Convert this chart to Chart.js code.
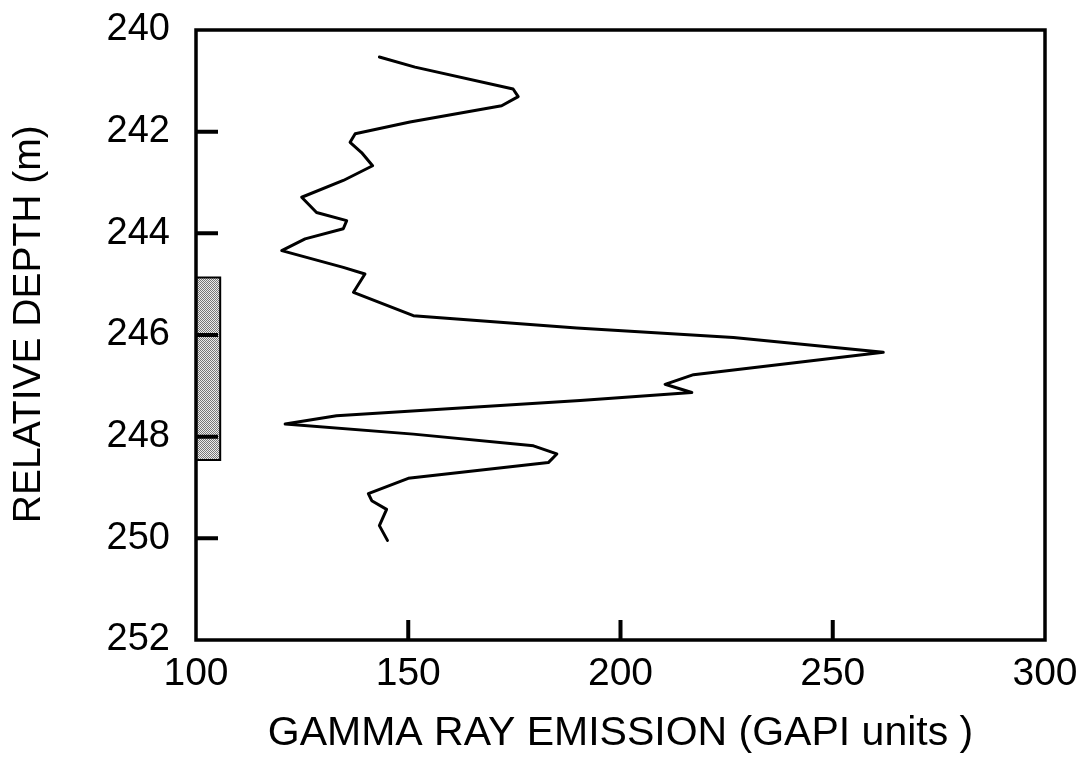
<!DOCTYPE html>
<html>
<head>
<meta charset="utf-8">
<title>Gamma ray log</title>
<script src="https://cdn.jsdelivr.net/npm/chart.js@4/dist/chart.umd.min.js"></script>
<style>
  html, body { margin: 0; padding: 0; background: #fff; }
  #wrap { width: 1091px; height: 763px; }
</style>
</head>
<body>
<div id="wrap"><canvas id="log-chart" width="1091" height="763"></canvas></div>
<script>
// gamma ray log, read downhole
const depth = [240.53, 240.73, 241.16, 241.31, 241.49, 241.81, 242.04, 242.21, 242.41, 242.67,
               242.96, 243.29, 243.59, 243.75, 243.91, 244.11, 244.34, 244.67, 244.80, 245.16,
               245.62, 245.86, 246.05, 246.34, 246.78, 246.97, 247.13, 247.29, 247.59, 247.75,
               247.95, 248.18, 248.34, 248.51, 248.82, 249.12, 249.26, 249.43, 249.75, 250.04];
const gamma = [143.2, 151.6, 174.7, 175.9, 172.0, 150.4, 137.5, 136.3, 139.0, 141.6,
               134.7, 124.9, 128.4, 135.5, 134.7, 125.7, 120.2, 134.7, 139.8, 137.1,
               151.2, 189.7, 226.6, 261.9, 217.2, 210.5, 216.8, 190.5, 133.1, 121.0,
               151.2, 179.5, 185.0, 183.0, 150.0, 140.6, 141.4, 144.9, 143.2, 145.1];

// cored interval marked against the depth axis
const coreGamma = [100, 105.7, 105.7, 100, 100];
const coreDepth = [244.87, 244.87, 248.46, 248.46, 244.87];

const depthTicks = [242, 244, 246, 248, 250];
const gammaTicks = [150, 200, 250];

const toPoints = (xs, ys) => xs.map((v, i) => ({ x: v, y: ys[i] }));

// stippled fill for the core bar
const stipple = (() => {
    const c = document.createElement('canvas');
    c.width = 2; c.height = 2;
    const g = c.getContext('2d');
    g.fillStyle = '#ececec'; g.fillRect(0, 0, 2, 2);
    g.fillStyle = '#777777'; g.fillRect(0, 0, 1, 1); g.fillRect(1, 1, 1, 1);
    return g.createPattern(c, 'repeat');
})();

// box around the plot and ticks pointing inwards
const frame = {
    id: 'frame',
    afterDatasetsDraw(chart) {
        const { ctx, chartArea: a, scales: { x, y } } = chart;
        ctx.save();
        ctx.strokeStyle = '#000';
        ctx.lineWidth = 3.5;
        ctx.strokeRect(a.left, a.top, a.right - a.left, a.bottom - a.top);
        ctx.lineWidth = 4;
        ctx.beginPath();
        depthTicks.forEach(v => {
            const py = y.getPixelForValue(v);
            ctx.moveTo(a.left, py);
            ctx.lineTo(a.left + 22, py);
        });
        gammaTicks.forEach(v => {
            const px = x.getPixelForValue(v);
            ctx.moveTo(px, a.bottom);
            ctx.lineTo(px, a.bottom - 20);
        });
        ctx.stroke();
        ctx.restore();
    }
};

const font = 'Liberation Sans, Arial, Helvetica, sans-serif';

new Chart(document.getElementById('log-chart'), {
    type: 'scatter',
    data: {
        datasets: [{
            data: toPoints(coreGamma, coreDepth),
            showLine: true,
            borderColor: '#000',
            borderWidth: 2,
            backgroundColor: stipple,
            fill: 'shape',
            pointRadius: 0,
            tension: 0
        }, {
            data: toPoints(gamma, depth),
            showLine: true,
            borderColor: '#000',
            borderWidth: 3,
            borderJoinStyle: 'round',
            borderCapStyle: 'round',
            pointRadius: 0,
            tension: 0,
            fill: false
        }]
    },
    options: {
        responsive: false,
        animation: false,
        layout: { padding: { top: 30, right: 46, left: 0, bottom: 0 } },
        plugins: {
            legend: { display: false },
            tooltip: { enabled: false }
        },
        scales: {
            x: {
                type: 'linear',
                min: 100,
                max: 300,
                afterFit: s => {
                    s.height = 123;
                    s.paddingLeft = 0;
                    s.paddingRight = 0;
                },
                grid: { display: false, drawTicks: false },
                border: { display: false },
                ticks: {
                    stepSize: 50,
                    padding: 11,
                    color: '#000',
                    font: { family: font, size: 39 }
                },
                title: {
                    display: true,
                    text: 'GAMMA RAY EMISSION (GAPI units )',
                    color: '#000',
                    font: { family: font, size: 41 },
                    padding: { top: 0, bottom: 5 }
                }
            },
            y: {
                type: 'linear',
                min: 240,
                max: 252,
                reverse: true,
                afterFit: s => {
                    s.width = 196;
                    s.paddingTop = 0;
                    s.paddingBottom = 0;
                },
                grid: { display: false, drawTicks: false },
                border: { display: false },
                ticks: {
                    stepSize: 2,
                    padding: 26,
                    color: '#000',
                    font: { family: font, size: 38 }
                },
                title: {
                    display: true,
                    text: '  RELATIVE DEPTH (m)',
                    color: '#000',
                    font: { family: font, size: 39 },
                    padding: { top: 6, bottom: 0 }
                }
            }
        }
    },
    plugins: [frame]
});
</script>
</body>
</html>
